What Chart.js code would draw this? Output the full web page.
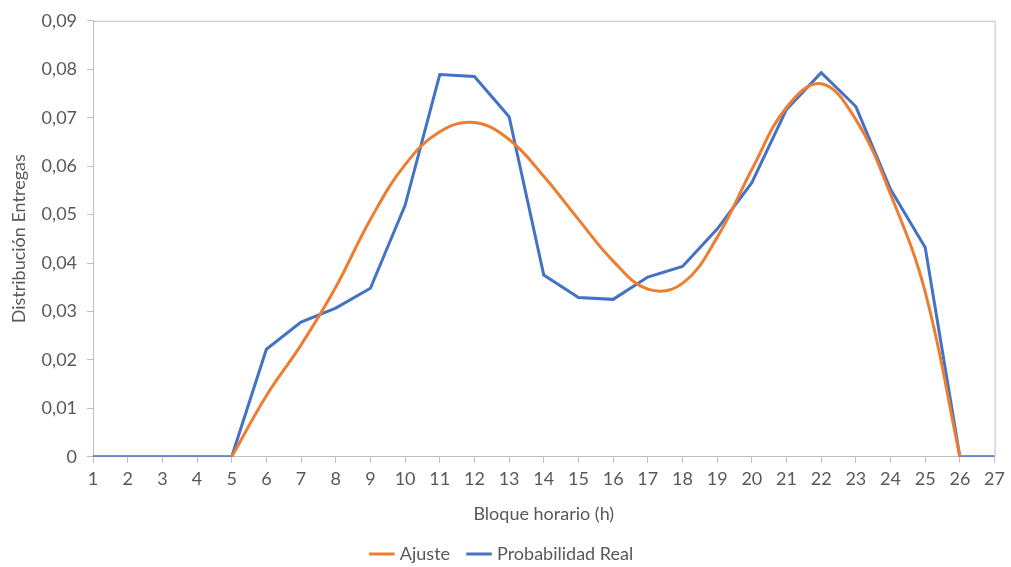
<!DOCTYPE html>
<html>
<head>
<meta charset="utf-8">
<script src="https://cdn.jsdelivr.net/npm/chart.js@4/dist/chart.umd.min.js"></script>
<style>
  html, body { margin: 0; padding: 0; background: #fff; }
  #wrap { width: 1011px; height: 567px; }
</style>
</head>
<body>
<div id="wrap"><canvas id="myChart" width="1011" height="567"></canvas></div>
<script>
// hour blocks 1..27
var bloques = ["1","2","3","4","5","6","7","8","9","10","11","12","13","14","15","16","17","18","19","20","21","22","23","24","25","26","27"];

// fitted curve (only defined from block 5 to 26)
var ajuste = [null, null, null, null, 0, 0.0126, 0.0231, 0.0350, 0.0490, 0.0603, 0.0671, 0.0690, 0.0655, 0.0579,
  0.0490, 0.0404, 0.0346, 0.0358, 0.0453, 0.0593, 0.0721, 0.0770, 0.0696, 0.0542, 0.0340, 0, null];

// observed probability
var probReal = [0, 0, 0, 0, 0, 0.0222, 0.0278, 0.0307, 0.0348, 0.0519, 0.0789, 0.0785, 0.0702, 0.0375,
  0.0329, 0.0325, 0.0371, 0.0393, 0.0470, 0.0566, 0.0717, 0.0793, 0.0723, 0.0552, 0.0432, 0, 0];

var axisGray = "#bfbfbf";
var textGray = "#595959";
var fontFam = "Lato, 'Open Sans', sans-serif";

// top and right border lines of the plot box
var frame = {
  id: "frame",
  afterDraw: function(chart) {
    var a = chart.chartArea, c = chart.ctx;
    c.save();
    c.strokeStyle = axisGray;
    c.lineWidth = 1;
    c.beginPath();
    c.moveTo(a.left, a.top + 0.5);
    c.lineTo(a.right + 0.5, a.top + 0.5);
    c.lineTo(a.right + 0.5, a.bottom);
    c.stroke();
    c.restore();
  }
};

var ctx = document.getElementById("myChart").getContext("2d");
var myChart = new Chart(ctx, {
  type: "line",
  data: {
    labels: bloques,
    datasets: [
      {
        label: "Ajuste",
        data: ajuste,
        borderColor: "#ed7d31",
        backgroundColor: "#ed7d31",
        borderWidth: 3,
        pointRadius: 0,
        tension: 0.4,
        fill: false
      },
      {
        label: "Probabilidad Real",
        data: probReal,
        borderColor: "#4472c4",
        backgroundColor: "#4472c4",
        borderWidth: 3,
        pointRadius: 0,
        tension: 0,
        fill: false
      }
    ]
  },
  options: {
    responsive: false,
    animation: false,
    layout: { padding: { left: 4, right: 9, top: 7, bottom: -6 } },
    plugins: {
      legend: {
        position: "bottom",
        labels: {
          usePointStyle: true,
          pointStyle: "line",
          boxWidth: 24,
          color: textGray,
          font: { family: fontFam, size: 18 },
          padding: 20
        }
      },
      tooltip: { enabled: false }
    },
    scales: {
      x: {
        offset: false,
        grid: { display: true, drawOnChartArea: false, drawTicks: true, tickLength: 6, color: axisGray },
        border: { color: axisGray, width: 1 },
        ticks: { color: textGray, font: { family: fontFam, size: 18 }, maxRotation: 0, autoSkip: false, padding: 6 },
        title: { display: true, text: "Bloque horario (h)", color: textGray, font: { family: fontFam, size: 18 }, padding: { top: 7, bottom: 0 } }
      },
      y: {
        min: 0,
        max: 0.09,
        grid: { display: true, drawOnChartArea: false, drawTicks: true, tickLength: 6, color: axisGray },
        border: { color: axisGray, width: 1 },
        ticks: {
          stepSize: 0.01,
          color: textGray,
          font: { family: fontFam, size: 18 },
          padding: 10,
          callback: function(v) {
            if (v === 0) return "0";
            return v.toFixed(2).replace(".", ",");
          }
        },
        title: { display: true, text: "Distribución Entregas", color: textGray, font: { family: fontFam, size: 18 }, padding: { bottom: 2 } }
      }
    }
  },
  plugins: [frame]
});
</script>
</body>
</html>
